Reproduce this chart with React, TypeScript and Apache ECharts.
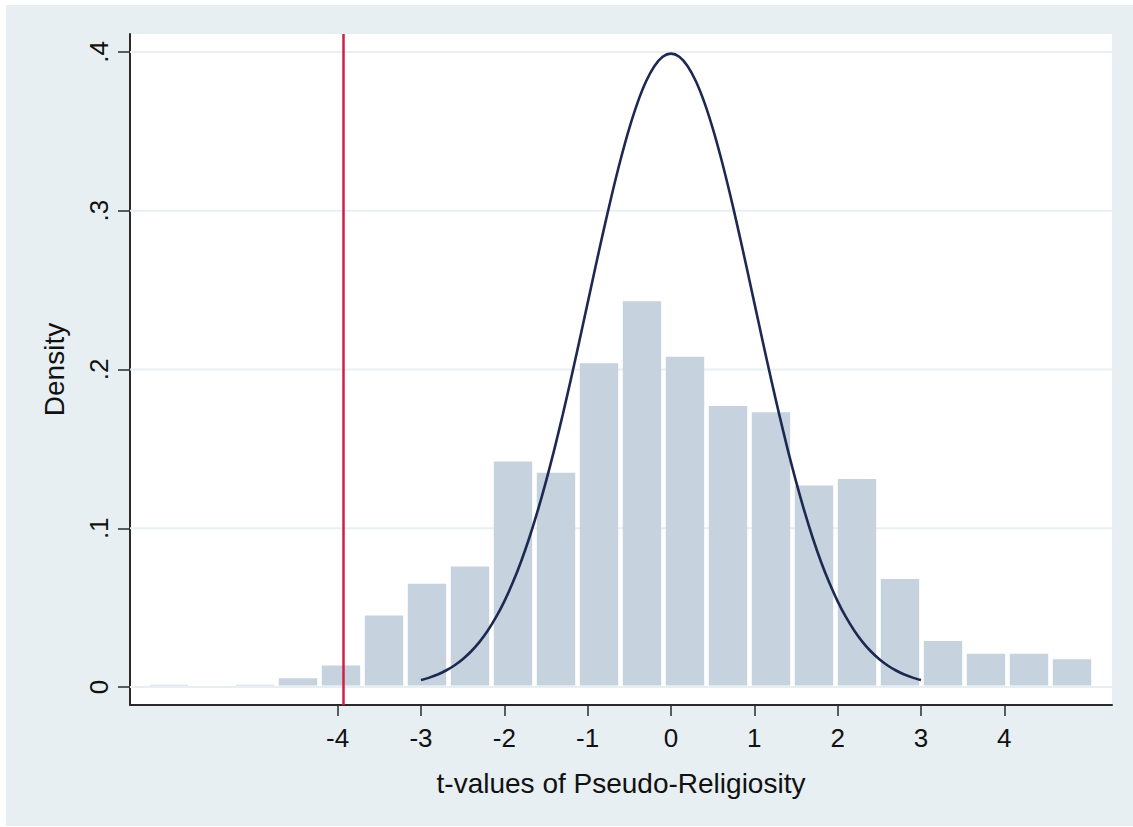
import React, { useEffect, useRef } from "react";
import * as echarts from "echarts";

// ---- data ----
const xTicks = [-4, -3, -2, -1, 0, 1, 2, 3, 4];
const yTicks = [0, 0.1, 0.2, 0.3, 0.4];

// histogram bins (t-values of Pseudo-Religiosity)
const binStart = -6.282;
const binWidth = 0.516;
const densities = [
  0.0015, 0, 0.0015, 0.0055, 0.0135, 0.045, 0.065, 0.076, 0.142, 0.135, 0.204,
  0.243, 0.208, 0.177, 0.173, 0.127, 0.131, 0.068, 0.029, 0.021, 0.021, 0.0175,
];

// reference normal density curve (points read at 0.1 steps from -3 to 3)
const normalX = [
  -3, -2.9, -2.8, -2.7, -2.6, -2.5, -2.4, -2.3, -2.2, -2.1, -2, -1.9, -1.8,
  -1.7, -1.6, -1.5, -1.4, -1.3, -1.2, -1.1, -1, -0.9, -0.8, -0.7, -0.6, -0.5,
  -0.4, -0.3, -0.2, -0.1, 0, 0.1, 0.2, 0.3, 0.4, 0.5, 0.6, 0.7, 0.8, 0.9, 1,
  1.1, 1.2, 1.3, 1.4, 1.5, 1.6, 1.7, 1.8, 1.9, 2, 2.1, 2.2, 2.3, 2.4, 2.5, 2.6,
  2.7, 2.8, 2.9, 3,
];
const normalY = [
  0.00443, 0.00595, 0.00792, 0.01042, 0.01358, 0.01753, 0.02239, 0.02833,
  0.03547, 0.04398, 0.05399, 0.06562, 0.07895, 0.09405, 0.11092, 0.12952,
  0.14973, 0.17137, 0.19419, 0.21785, 0.24197, 0.26609, 0.28969, 0.31225,
  0.33322, 0.35207, 0.36827, 0.38139, 0.39104, 0.39695, 0.39894, 0.39695,
  0.39104, 0.38139, 0.36827, 0.35207, 0.33322, 0.31225, 0.28969, 0.26609,
  0.24197, 0.21785, 0.19419, 0.17137, 0.14973, 0.12952, 0.11092, 0.09405,
  0.07895, 0.06562, 0.05399, 0.04398, 0.03547, 0.02833, 0.02239, 0.01753,
  0.01358, 0.01042, 0.00792, 0.00595, 0.00443,
];

// critical value line
const cutoff = -3.93;

// axis ranges
const xMin = -6.492;
const xMax = 5.292;
const yMin = -0.0113;
const yMax = 0.4113;

const FONT = "'Liberation Sans', Arial, Helvetica, sans-serif";
const BG = "#e8eff2";

export default function App() {
  const ref = useRef<HTMLDivElement>(null);

  useEffect(() => {
    if (!ref.current) return;
    const chart = echarts.init(ref.current, undefined, { renderer: "svg" });

    const histData = densities.map((d, i) => [
      binStart + i * binWidth,
      binStart + (i + 1) * binWidth,
      d,
    ]);

    chart.setOption({
      animation: false,
      backgroundColor: "transparent",
      grid: {
        left: 130,
        top: 34,
        width: 982,
        height: 671,
        show: true,
        backgroundColor: "#ffffff",
        borderWidth: 0,
        containLabel: false,
      },
      xAxis: {
        type: "value",
        min: xMin,
        max: xMax,
        axisLine: { show: true, onZero: false, lineStyle: { color: "#2a2a2a", width: 2 } },
        axisTick: {
          show: true,
          customValues: xTicks,
          length: 11,
          lineStyle: { color: "#2a2a2a", width: 1.5 },
        },
        axisLabel: {
          customValues: xTicks,
          fontSize: 26,
          margin: 20,
          color: "#111",
          fontFamily: FONT,
        },
        splitLine: { show: false },
        name: "t-values of Pseudo-Religiosity",
        nameLocation: "middle",
        nameGap: 64,
        nameTextStyle: { fontSize: 28, color: "#111", fontFamily: FONT },
      },
      yAxis: {
        type: "value",
        min: yMin,
        max: yMax,
        axisLine: { show: true, onZero: false, lineStyle: { color: "#2a2a2a", width: 2 } },
        axisTick: {
          show: true,
          customValues: yTicks,
          length: 12,
          lineStyle: { color: "#2a2a2a", width: 1.5 },
        },
        axisLabel: {
          customValues: yTicks,
          rotate: 90,
          fontSize: 26,
          margin: 18,
          color: "#111",
          fontFamily: FONT,
          formatter: (v: number) => (v === 0 ? "0" : String(v).replace(/^0/, "")),
        },
        splitLine: { show: false },
        name: "Density",
        nameLocation: "middle",
        nameRotate: 90,
        nameGap: 62,
        nameTextStyle: { fontSize: 28, color: "#111", fontFamily: FONT },
      },
      series: [
        {
          type: "custom",
          name: "grid",
          silent: true,
          z: 1,
          data: yTicks.map((v) => [0, v]),
          encode: { x: 0, y: 1 },
          renderItem: (_p: any, api: any) => {
            const v = api.value(1);
            const a = api.coord([xMin, v]);
            const b = api.coord([xMax, v]);
            return {
              type: "line",
              shape: { x1: a[0], y1: a[1], x2: b[0], y2: b[1] },
              style: { stroke: BG, lineWidth: 2 },
            };
          },
        },
        {
          type: "custom",
          name: "histogram",
          silent: true,
          z: 2,
          data: histData,
          encode: { x: [0, 1], y: 2 },
          renderItem: (_p: any, api: any) => {
            const h = api.value(2);
            if (!h) return { type: "group", children: [] };
            const a = api.coord([api.value(0), h]);
            const b = api.coord([api.value(1), 0]);
            return {
              type: "rect",
              shape: {
                x: a[0] + 2.3,
                y: a[1],
                width: b[0] - a[0] - 4.6,
                height: Math.max(b[1] - a[1] - 1.5, 0.8),
              },
              style: { fill: "#c6d2de" },
            };
          },
        },
        {
          type: "line",
          name: "normal",
          z: 3,
          smooth: 0.3,
          symbol: "none",
          silent: true,
          data: normalX.map((x, i) => [x, normalY[i]]),
          lineStyle: { color: "#1c2a52", width: 2.6 },
        },
        {
          type: "line",
          name: "cutoff",
          z: 4,
          symbol: "none",
          silent: true,
          data: [
            [cutoff, yMin],
            [cutoff, yMax],
          ],
          lineStyle: { color: "#cf1f45", width: 2.5 },
        },
      ],
    });

    return () => chart.dispose();
  }, []);

  return (
    <div style={{ position: "absolute", left: 0, top: 0, width: 1133, height: 827, background: "#ffffff" }}>
      <div
        style={{ position: "absolute", left: 6, top: 5, width: 1127, height: 821, background: BG }}
      />
      <div ref={ref} style={{ position: "absolute", left: 0, top: 0, width: 1133, height: 827 }} />
    </div>
  );
}
